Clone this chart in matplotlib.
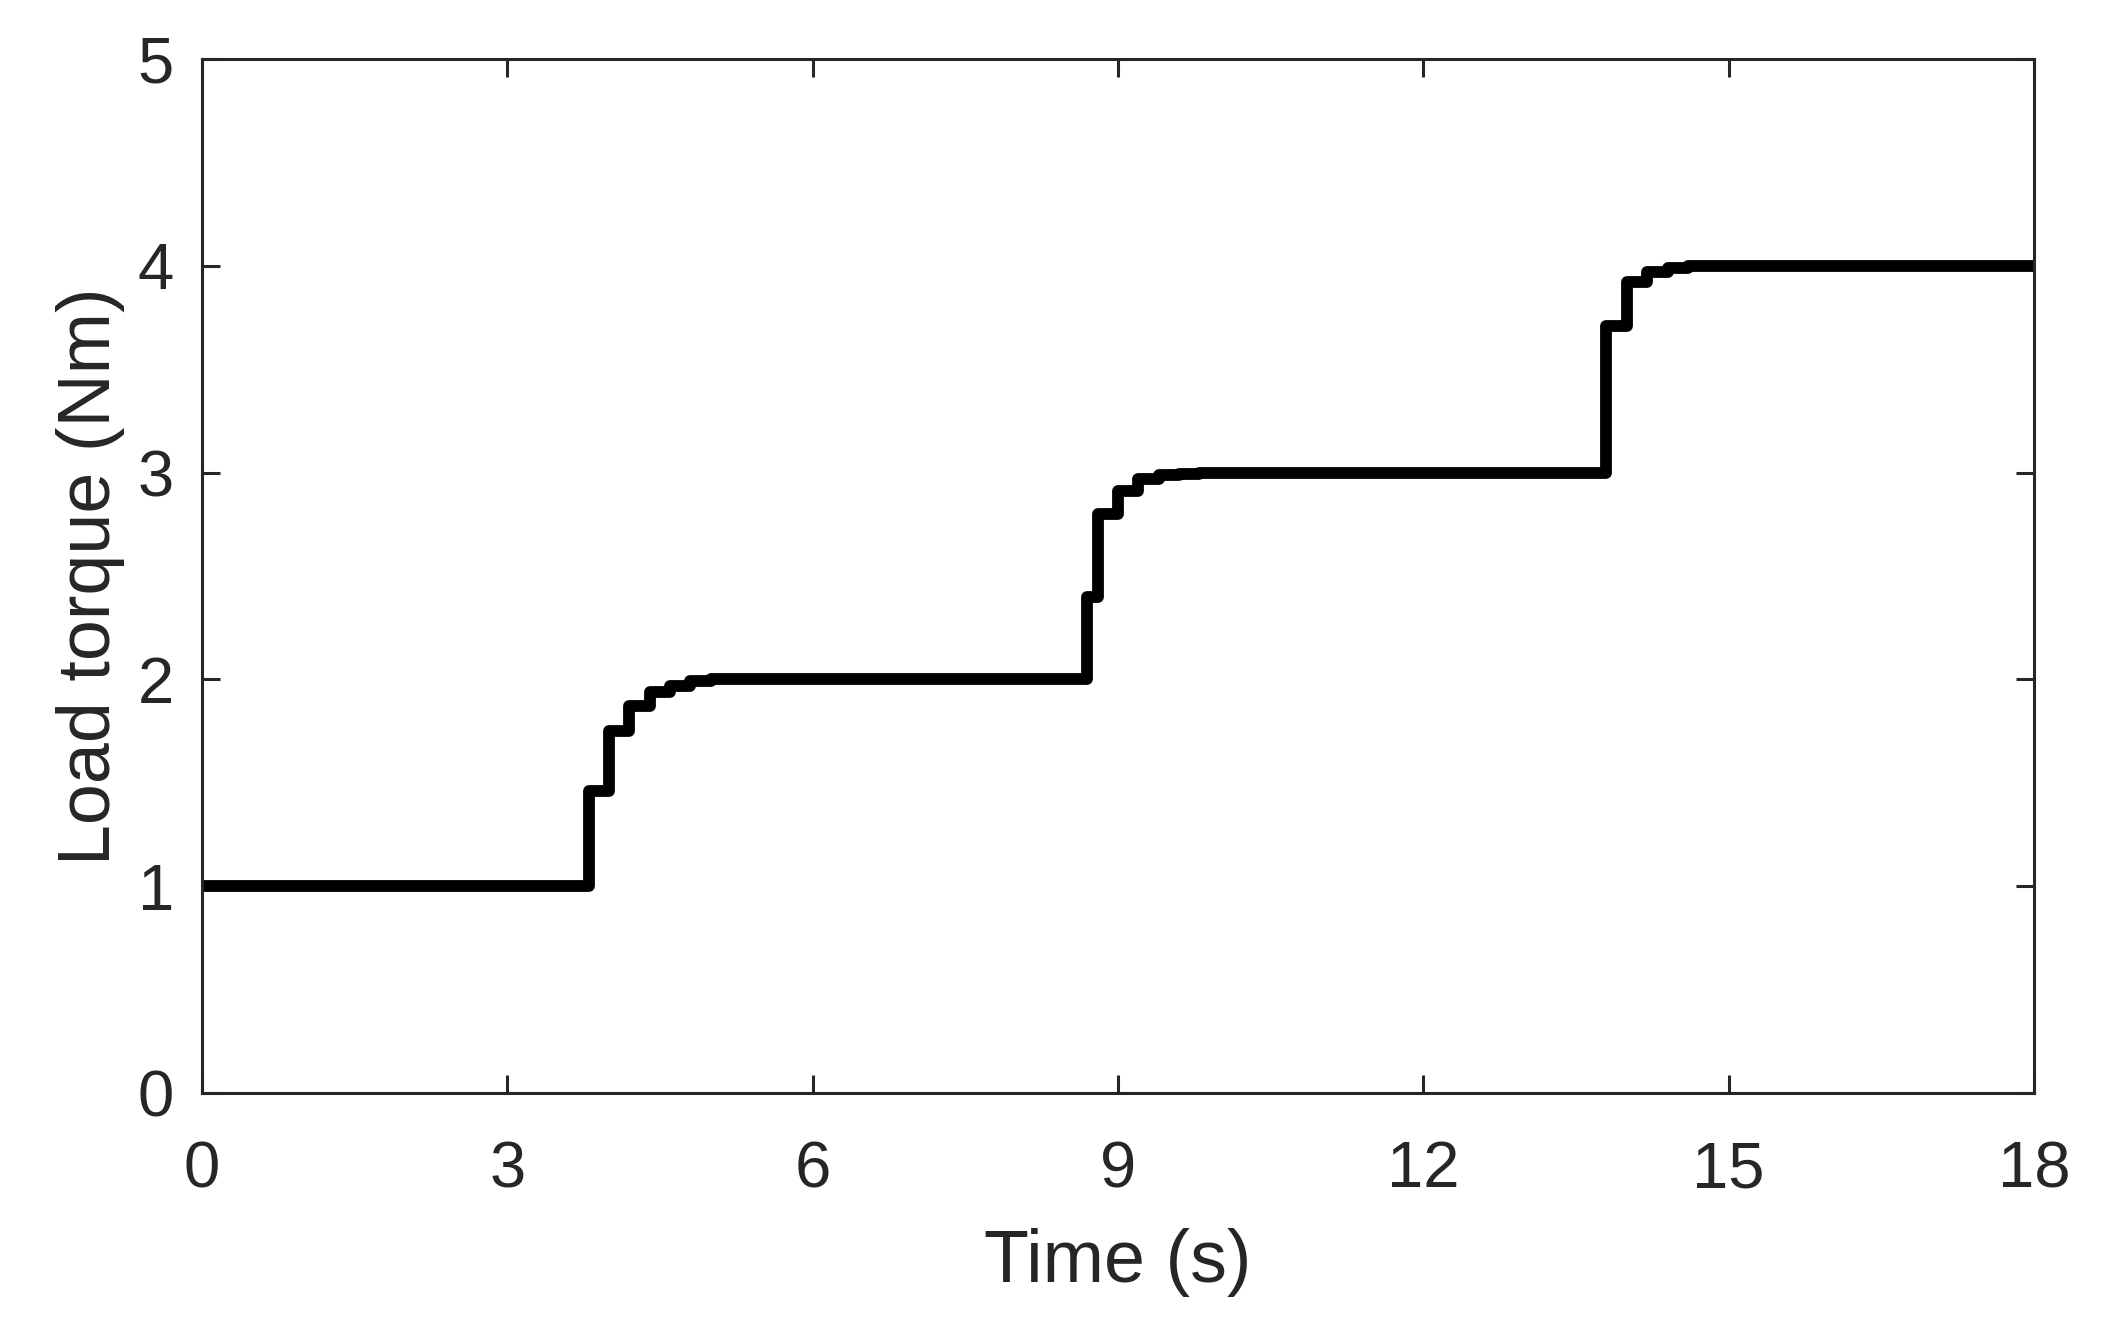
import matplotlib
matplotlib.use('Agg')
from matplotlib import pyplot as plt

# load torque samples (time in s, torque in Nm), held between samples
times = [0, 3.8, 4.0, 4.2, 4.4, 4.6, 4.8, 5.0,
         8.7, 8.8, 9.0, 9.2, 9.4, 9.6, 9.8,
         13.8, 14.0, 14.2, 14.4, 14.6, 14.8, 18]
torque = [1.0, 1.46, 1.75, 1.87, 1.94, 1.97, 1.99, 2.0,
          2.40, 2.80, 2.91, 2.97, 2.99, 2.995, 3.0,
          3.71, 3.92, 3.97, 3.99, 4.0, 4.0, 4.0]

x_ticks = [0, 3, 6, 9, 12, 15, 18]
y_ticks = [0, 1, 2, 3, 4, 5]

plt.rcParams['font.family'] = ['Liberation Sans', 'DejaVu Sans']
axis_color = '#262626'

fig = plt.figure(figsize=(21.01, 13.29), dpi=100)
ax = fig.add_axes([0.0961, 0.1776, 0.8720, 0.7780])

ax.plot(times, torque, drawstyle='steps-post', color='black', linewidth=8.5,
        solid_joinstyle='round', solid_capstyle='butt')

ax.set_xlim(0, 18)
ax.set_ylim(0, 5)
ax.set_xticks(x_ticks)
ax.set_yticks(y_ticks)

for side in ax.spines.values():
    side.set_linewidth(2.2)
    side.set_color(axis_color)

ax.tick_params(axis='both', which='major', direction='in', length=13, width=2.2,
               color=axis_color, labelcolor=axis_color, labelsize=47,
               top=True, right=True)
ax.tick_params(axis='x', pad=34)
ax.tick_params(axis='y', pad=20)

ax.set_xlabel('Time (s)', fontsize=53, color=axis_color, labelpad=20)
ax.set_ylabel('Load torque (Nm)', fontsize=53, color=axis_color, labelpad=9)

fig.savefig('out.png', dpi=100, facecolor='white')
